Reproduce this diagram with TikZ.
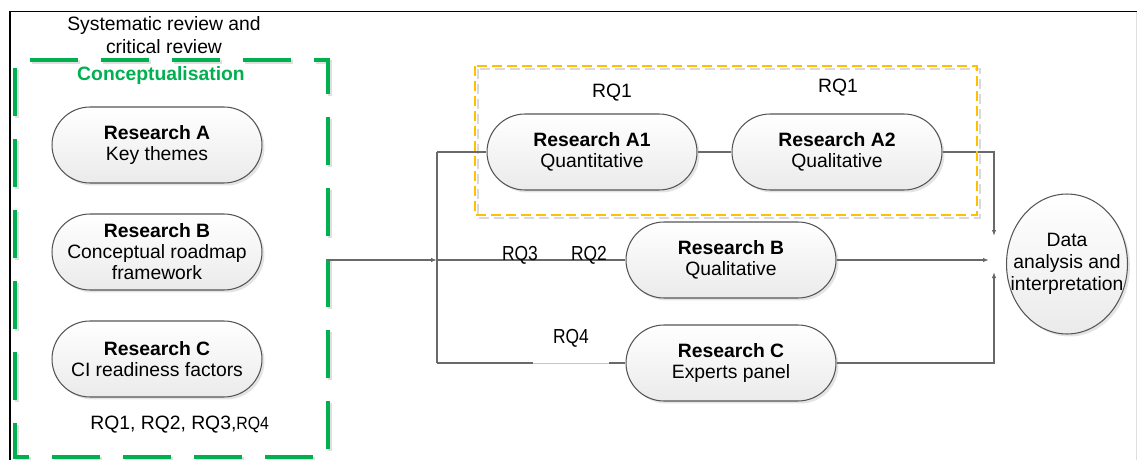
\documentclass[tikz,border=0pt]{standalone}
\usepackage{fontspec}
\setmainfont{Liberation Sans}
\usepackage{graphicx}
\usetikzlibrary{shapes.misc,shapes.geometric,shadows,arrows.meta,calc}

\definecolor{ogreen}{RGB}{0,176,80}
\definecolor{oyellow}{RGB}{255,192,0}
\definecolor{conncol}{RGB}{105,105,105}
\definecolor{edgecol}{RGB}{85,85,85}

\tikzset{
  txt/.style={font=\fontsize{11}{12}\selectfont, align=center, inner sep=0pt},
  stage/.style={rounded rectangle, draw=edgecol, line width=0.6pt,
    top color=white, bottom color=gray!16,
    minimum width=4.2cm, minimum height=1.52cm, inner sep=0pt,
    align=center, font=\fontsize{11}{12}\selectfont,
    drop shadow={shadow xshift=0.05cm, shadow yshift=-0.05cm, fill=gray!70, opacity=0.3}},
  link/.style={draw=conncol, line width=0.75pt},
  tip/.style={-{Latex[length=0.12cm,width=0.09cm]}},
  greendash/.style={line width=2.2pt, dash pattern=on 0.96cm off 0.46cm, dash phase=1.12cm},
  yellowdash/.style={line width=1.1pt, dash pattern=on 0.2cm off 0.1cm},
}

\begin{document}
\begin{tikzpicture}[x=0.02cm,y=-0.02cm]
\useasboundingbox (0,0) rectangle (1137,460);

% page frame
\draw[line width=1pt] (10,460) -- (10,11.5) -- (1137,11.5);
\draw[gray!25, line width=0.5pt] (1136.5,11.5) -- (1136.5,460);

% heading of the conceptual part
\node[txt, font=\fontsize{11}{13.5}\selectfont] (title) at (164,35) {Systematic review and\\critical review};

% conceptualisation frame (green, dashed, with a soft shadow)
\draw[gray!25, greendash] (17,62) -- (330,62) -- (330,459) -- (17,459) -- cycle;
\draw[ogreen, greendash] (15,60) -- (328,60) -- (328,457) -- (15,457) -- cycle;
\node[txt, text=ogreen, font=\bfseries\fontsize{11}{12}\selectfont] (concl) at (161,76) {Conceptualisation};

% empirical research A frame (yellow, dashed, with a soft shadow)
\draw[gray!30, yellowdash] (478,69) rectangle (980,218);

% connectors
\coordinate (gR) at (328,260);
\coordinate (j) at (437,260);
\coordinate (m) at (994,260);

\node[stage] (ra) at (157,145) {\textbf{Research A}\\Key themes};
\node[stage] (rb) at (157,252) {\textbf{Research B}\\Conceptual roadmap\\framework};
\node[stage] (rc) at (157,359) {\textbf{Research C}\\CI readiness factors};
\node[txt, anchor=base west] (rql) at (90,429) {RQ1, RQ2, RQ3,\scalebox{0.82}[0.92]{RQ4}};

\node[stage] (a1) at (592,152) {\textbf{Research A1}\\Quantitative};
\node[stage] (a2) at (837,152) {\textbf{Research A2}\\Qualitative};
\node[stage] (b2) at (731,260) {\textbf{Research B}\\Qualitative};
\node[stage] (c2) at (731,363) {\textbf{Research C}\\Experts panel};

\draw[link, tip] (gR) -- (j);
\draw[link] (j |- a1.west) -- (j |- c2.west);
\draw[link] (j |- a1.west) -- (a1.west);
\draw[link] (j) -- (b2.west);
\draw[link] (j |- c2.west) -- (c2.west);
\draw[link] (a1.east) -- (a2.west);
\draw[link, tip] (a2.east) -| ($(m)+(0,-24)$);
\draw[link, tip] (b2.east) -- ($(m)+(-5,0)$);
\draw[link, tip] (c2.east) -| ($(m)+(0,12)$);

\draw[oyellow, yellowdash] (475,66) rectangle (977,215);

% research question labels
\node[txt] (rq1a) at (612,93) {RQ1};
\node[txt] (rq1b) at (838,88) {RQ1};
\node[txt, anchor=base] (rq3) at (520,260) {\scalebox{0.9}[1.05]{RQ3}};
\node[txt, anchor=base] (rq2) at (589,260) {\scalebox{0.9}[1.05]{RQ2}};
\node[txt] (rq4) at (571,338) {\scalebox{0.9}[1.05]{RQ4}};
\draw[white, line width=1.6pt] ($(rq4)+(-38,25)$) -- ($(rq4)+(38,25)$);
\draw[gray!45, line width=0.4pt] ($(rq4)+(-38,25)$) -- ($(rq4)+(38,25)$);

% final analysis
\node[ellipse, draw=edgecol, line width=0.6pt, top color=white, bottom color=gray!16,
  minimum width=2.42cm, minimum height=2.8cm, inner sep=0pt,
  drop shadow={shadow xshift=0.05cm, shadow yshift=-0.05cm, fill=gray!70, opacity=0.3}] (dat) at (1067,264) {};
\node[txt, font=\fontsize{11}{12.6}\selectfont] (datl) at (dat.center) {Data\\analysis and\\interpretation};
\end{tikzpicture}
\end{document}
